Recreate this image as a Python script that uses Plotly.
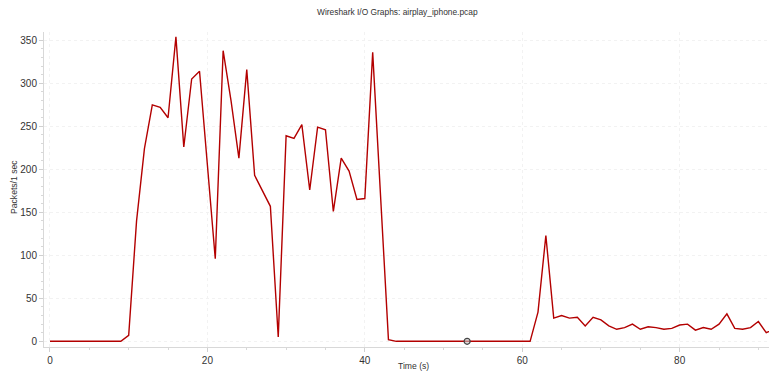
import plotly.graph_objects as go

# Time (s) and packets per 1 sec interval
time_s = list(range(0, 93))
packets = [
    0, 0, 0, 0, 0, 0, 0, 0, 0, 0,          # 0-9
    7, 140, 224, 275, 272, 260, 354, 226, 305, 314,   # 10-19
    205, 96, 338, 280, 213, 316, 193, 175, 157, 5,   # 20-29
    239, 236, 252, 176, 249, 246, 151, 213, 198, 165,  # 30-39
    166, 336, 169, 2, 0, 0, 0, 0, 0, 0,    # 40-49
    0, 0, 0, 0, 0, 0, 0, 0, 0, 0,          # 50-59
    0, 0, 34, 123, 27, 30, 27, 28, 18, 28,  # 60-69
    25, 18, 14, 16, 20, 14, 17, 16, 14, 15,  # 70-79
    19, 20, 13, 16, 14, 20, 32, 15, 14, 16,  # 80-89
    23, 10, 14,                            # 90-92
]
marker_x = [53]
marker_y = [0]

title_text = "Wireshark I/O Graphs: airplay_iphone.pcap"
x_title = "Time (s)"
y_title = "Packets/1 sec"
x_ticks = [0, 20, 40, 60, 80]
y_ticks = [0, 50, 100, 150, 200, 250, 300, 350]

fig = go.Figure()
fig.add_trace(go.Scatter(x=time_s, y=packets, mode="lines",
                         line=dict(color="#b30000", width=1.4),
                         hoverinfo="skip", showlegend=False))
fig.add_trace(go.Scatter(x=marker_x, y=marker_y, mode="markers",
                         marker=dict(size=6, color="rgba(200,200,200,0.6)",
                                     line=dict(color="#444444", width=1.2)),
                         showlegend=False))

font = "Liberation Sans, Arial, sans-serif"
axis_common = dict(
    showline=True, linecolor="#d8d8d8", linewidth=1,
    ticks="outside", ticklen=4, tickcolor="#d0d0d0",
    showgrid=True, gridcolor="#f2f2f2", griddash="dot", gridwidth=1,
    zeroline=False, tickfont=dict(family=font, size=10, color="#333333"),
    minor=dict(ticks="outside", ticklen=2, tickcolor="#d8d8d8", showgrid=False),
)
fig.update_xaxes(range=[-0.76, 91.35], tickvals=x_ticks, **axis_common)
fig.update_yaxes(range=[-6.6, 359.7], tickvals=y_ticks, **axis_common)
fig.update_xaxes(minor=dict(dtick=5))
fig.update_yaxes(minor=dict(dtick=10))

fig.update_layout(
    width=769, height=372,
    margin=dict(l=44, r=0, t=32, b=25),
    plot_bgcolor="white", paper_bgcolor="white",
    font=dict(family=font, color="#333333"),
    annotations=[
        dict(text=title_text, xref="paper", yref="paper", x=0.487, y=1.0,
             yshift=20, xanchor="center", yanchor="middle", showarrow=False,
             font=dict(size=8.4, color="#333333")),
        dict(text=x_title, xref="paper", yref="paper", x=0.510, y=0,
             yshift=-19, xanchor="center", yanchor="middle", showarrow=False,
             font=dict(size=8.6, color="#333333")),
        dict(text=y_title, xref="paper", yref="paper", x=0, y=0.508,
             xshift=-30, xanchor="center", yanchor="middle", textangle=-90,
             showarrow=False, font=dict(size=8.6, color="#333333")),
    ],
)

fig.write_html("out.html", config={"displayModeBar": False},
               post_script="document.body.style.margin='0';document.body.style.padding='0';")
